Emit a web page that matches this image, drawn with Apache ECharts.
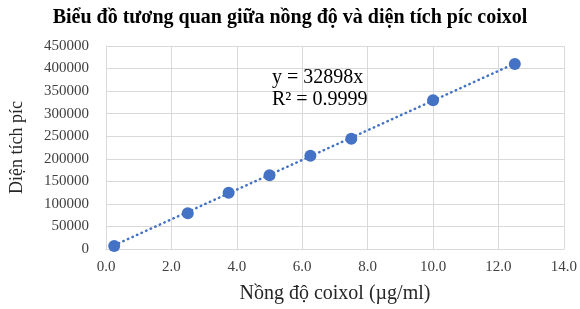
<!DOCTYPE html>
<html>
<head>
<meta charset="utf-8">
<script src="https://cdn.jsdelivr.net/npm/echarts@6/dist/echarts.min.js"></script>
<style>
  html, body { margin: 0; padding: 0; background: #fff; }
  #chart { width: 580px; height: 309px; }
</style>
</head>
<body>
<div id="chart"></div>
<script>
// nong do coixol (µg/ml) va dien tich pic
var concentrations = [0.25, 2.5, 3.75, 5, 6.25, 7.5, 10, 12.5];
var peakAreas = [6500, 79000, 124500, 163500, 206500, 244500, 329500, 410000];
// duong xu huong y = 32898x
var trendSlope = 32898;
var trendRange = [0.25, 12.5];
var equationText = ["y = 32898x", "R² = 0.9999"];

var serif = "'Liberation Serif', 'DejaVu Serif', serif";

var trendData = trendRange.map(function (x) {
  return [x, trendSlope * x];
});

var chart = echarts.init(document.getElementById("chart"));
chart.setOption({
  animation: false,
  title: {
    text: "Biểu đồ tương quan giữa nồng độ và diện tích píc coixol",
    left: "center",
    top: 3,
    textStyle: {
      fontFamily: serif,
      fontSize: 20,
      fontWeight: "bold",
      color: "#000"
    }
  },
  grid: {
    left: 103,
    right: 14,
    top: 46,
    bottom: 58
  },
  xAxis: {
    type: "value",
    min: 0,
    max: 14,
    interval: 2,
    name: "Nồng độ coixol (µg/ml)",
    nameLocation: "middle",
    nameGap: 35,
    nameTextStyle: { fontFamily: serif, fontSize: 20, color: "#262626" },
    axisLine: { show: true, lineStyle: { color: "#d9d9d9" } },
    axisTick: { show: false },
    axisLabel: {
      fontFamily: serif,
      fontSize: 15,
      color: "#404040",
      margin: 11,
      formatter: function (v) { return v.toFixed(1); }
    },
    splitLine: { show: true, lineStyle: { color: "#d9d9d9" } }
  },
  yAxis: {
    type: "value",
    min: 0,
    max: 450000,
    interval: 50000,
    name: "Diện tích píc",
    nameLocation: "middle",
    nameGap: 80,
    nameTextStyle: { fontFamily: serif, fontSize: 18, color: "#262626" },
    axisLine: { show: true, lineStyle: { color: "#d9d9d9" } },
    axisTick: { show: false },
    axisLabel: {
      fontFamily: serif,
      fontSize: 15,
      color: "#404040",
      margin: 17,
      formatter: function (v) { return String(v); }
    },
    splitLine: { show: true, lineStyle: { color: "#d9d9d9" } }
  },
  graphic: [
    {
      type: "text",
      left: 272,
      top: 67,
      z: 10,
      style: {
        text: equationText.join("\n"),
        font: "20px " + serif,
        fill: "#000",
        lineHeight: 22,
        align: "left"
      }
    }
  ],
  series: [
    {
      name: "trend",
      type: "line",
      data: trendData,
      showSymbol: false,
      symbol: "none",
      lineStyle: { color: "#4472c4", width: 2.5, type: [0.5, 4.5], cap: "round" },
      z: 2
    },
    {
      name: "Diện tích píc",
      type: "scatter",
      data: concentrations.map(function (x, i) { return [x, peakAreas[i]]; }),
      symbolSize: 12,
      itemStyle: { color: "#4472c4", opacity: 1 },
      z: 3
    }
  ]
});
</script>
</body>
</html>
